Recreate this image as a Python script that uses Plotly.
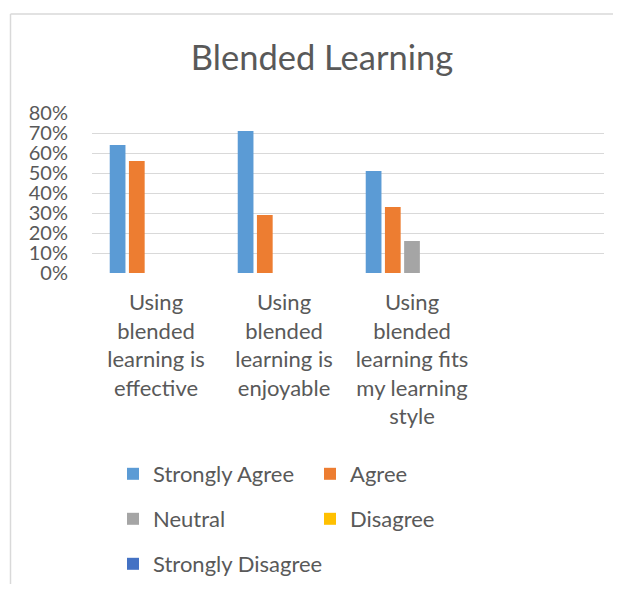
import plotly.graph_objects as go

categories = [
    "Using blended learning is effective",
    "Using blended learning is enjoyable",
    "Using blended learning fits my learning style",
]
tick_labels = [
    "Using<br>blended<br>learning is<br>effective",
    "Using<br>blended<br>learning is<br>enjoyable",
    "Using<br>blended<br>learning fits<br>my learning<br>style",
]
series_names = ["Strongly Agree", "Agree", "Neutral", "Disagree", "Strongly Disagree"]
strongly_agree = [0.64, 0.71, 0.51]
agree = [0.56, 0.29, 0.33]
neutral = [0.0, 0.0, 0.16]
disagree = [0.0, 0.0, 0.0]
strongly_disagree = [0.0, 0.0, 0.0]
y_ticks = [0, 0.1, 0.2, 0.3, 0.4, 0.5, 0.6, 0.7, 0.8]

colors = ["#5B9BD5", "#ED7D31", "#A5A5A5", "#FFC000", "#4472C4"]
values = [strongly_agree, agree, neutral, disagree, strongly_disagree]
legend_ids = ["legend", "legend", "legend2", "legend2", "legend3"]

FONT = "Lato"
TXT = "#595959"
OFF = 8  # page body margin
W, H = 621 - OFF, 592 - 2 * OFF
ML, MT = 92 - OFF, 113 - OFF
MR = W - (604 - OFF)
MB = H - (273 - OFF)

fig = go.Figure()
for name, vals, col, lg in zip(series_names, values, colors, legend_ids):
    fig.add_trace(go.Bar(
        x=categories, y=vals, name=name, legend=lg,
        marker=dict(color=col, line=dict(width=0)),
    ))

pw = W - ML - MR
ph = H - MT - MB

def px2paper_x(px):
    return (px - OFF - ML) / pw

def py2paper_y(py):
    return (H - MB - (py - OFF)) / ph

def legend_cfg(row_y, ew):
    return dict(
        orientation="h", xref="container", yref="container",
        x=(113 - OFF) / W, xanchor="left",
        y=1 - (row_y - OFF) / H, yanchor="middle",
        font=dict(family=FONT, size=22, color=TXT),
        entrywidth=ew, entrywidthmode="pixels",
        bgcolor="rgba(0,0,0,0)", borderwidth=0,
        itemclick=False, itemdoubleclick=False,
    )

border = dict(color="#D9D9D9", width=1.5)

fig.update_layout(
    width=W, height=H,
    margin=dict(l=ML, r=MR, t=MT, b=MB, autoexpand=False),
    paper_bgcolor="white", plot_bgcolor="white",
    font=dict(family=FONT, size=22, color=TXT),
    title=dict(text="Blended Learning", xref="container", x=(322 - OFF) / W, xanchor="center",
               yref="container", y=1 - (58 - OFF) / H, yanchor="middle",
               font=dict(family=FONT, size=34.5, color=TXT)),
    barmode="group", bargap=0.25, bargroupgap=0.18,
    showlegend=True,
    legend=legend_cfg(474, 152),
    legend2=legend_cfg(519, 152),
    legend3=legend_cfg(564, 260),
    xaxis=dict(type="category", categoryorder="array", categoryarray=categories,
               range=[-0.5, 3.5], tickvals=categories, ticktext=tick_labels,
               showgrid=False, zeroline=False, showline=False, ticks="",
               tickfont=dict(family=FONT, size=22, color=TXT), automargin=False,
               ticklabelstandoff=14),
    yaxis=dict(range=[0, 0.8], tickvals=y_ticks, tickformat=".0%",
               showgrid=True, gridcolor="#D9D9D9", gridwidth=1.3,
               zeroline=False, showline=False, ticks="",
               tickfont=dict(family=FONT, size=20, color=TXT), automargin=False,
               ticklabelstandoff=23),
    shapes=[
        dict(type="line", xref="paper", yref="paper",
             x0=px2paper_x(10.5), x1=px2paper_x(10.5),
             y0=py2paper_y(640), y1=py2paper_y(14), line=border, layer="below"),
        dict(type="line", xref="paper", yref="paper",
             x0=px2paper_x(10.5), x1=px2paper_x(621),
             y0=py2paper_y(14), y1=py2paper_y(14), line=border, layer="below"),
    ],
)

fig.write_html("out.html")
